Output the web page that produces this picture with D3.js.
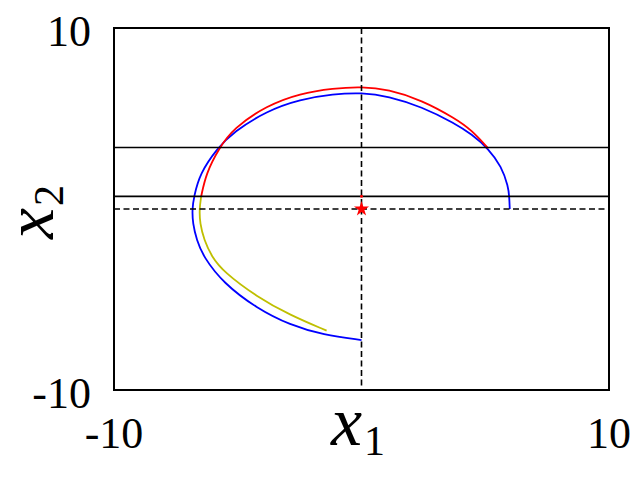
<!DOCTYPE html>
<meta charset="utf-8">
<style>
body { margin: 0; background: #fff; }
</style>
<svg width="640" height="478"></svg>
<script src="https://d3js.org/d3.v7.min.js"></script>
<script>
// axis setup
var xDomain = [-10, 10]
var yDomain = [-10, 10]
var xTicks = [-10, 10]
var yTicks = [-10, 10]

// horizontal bounds and crossing points
var boundLevels = [3.4, 0.7]
var crossLines = { x: 0, y: 0 }
var equilibrium = [0, 0]
var smallDot = [0, 0.7]

// trajectories, [x1, x2]
var bluePath = [
  [5.99, 0], [5.97, 0.68], [5.93, 1.23], [5.66, 2.34], [5.12, 3.35],
  [4.45, 4.13], [3.78, 4.73], [2.43, 5.65], [1.08, 6.24], [0, 6.43],
  [-1.14, 6.35], [-2.48, 6.06], [-3.83, 5.42], [-5.18, 4.25],
  [-5.83, 3.35], [-6.53, 1.97], [-6.77, 0.68], [-6.84, 0], [-6.82, -0.79],
  [-6.66, -1.71], [-6.39, -2.64], [-5.58, -4.10], [-4.23, -5.49],
  [-2.89, -6.41], [-1.54, -6.96], [0, -7.24]
]
var redPath = [
  [5.12, 3.35], [4.45, 4.36], [3.78, 5.01], [2.43, 6.02], [1.08, 6.61],
  [0, 6.76], [-1.14, 6.67], [-2.48, 6.39], [-3.83, 5.72], [-5.18, 4.45],
  [-5.76, 3.35], [-6.28, 1.97], [-6.48, 0.68]
]
var yellowPath = [
  [-6.48, 0.68], [-6.55, 0], [-6.53, -0.79], [-6.36, -1.71], [-6.05, -2.64],
  [-5.58, -3.46], [-4.23, -4.85], [-2.89, -5.86], [-1.41, -6.72]
]

var svg = d3.select('svg')
var serif = 'Liberation Serif'
var plotLeft = 114, plotRight = 609, plotTop = 28, plotBottom = 390

var x = d3.scaleLinear().domain(xDomain).range([plotLeft, plotRight])
var y = d3.scaleLinear().domain(yDomain).range([plotBottom, plotTop])

var line = d3.line()
  .x(function (d) { return x(d[0]) })
  .y(function (d) { return y(d[1]) })
  .curve(d3.curveBasis)

// trajectories
var curves = [
  { data: bluePath, color: '#0000ff' },
  { data: redPath, color: '#ff0000' },
  { data: yellowPath, color: '#bfbf00' }
]
svg.append('g').selectAll('path')
  .data(curves)
  .enter().append('path')
  .attr('d', function (c) { return line(c.data) })
  .attr('fill', 'none')
  .attr('stroke', function (c) { return c.color })
  .attr('stroke-width', 1.8)

// solid bounds
svg.append('g').selectAll('line')
  .data(boundLevels)
  .enter().append('line')
  .attr('x1', x(xDomain[0])).attr('x2', x(xDomain[1]))
  .attr('y1', function (d) { return y(d) })
  .attr('y2', function (d) { return y(d) })
  .attr('stroke', '#000')
  .attr('stroke-width', 1.6)

// dashed crosshair
var dash = svg.append('g')
  .attr('stroke', '#000')
  .attr('stroke-width', 1.6)
  .attr('stroke-dasharray', '6,3.5')
dash.append('line')
  .attr('x1', x(crossLines.x)).attr('x2', x(crossLines.x))
  .attr('y1', y(yDomain[1])).attr('y2', y(yDomain[0]))
dash.append('line')
  .attr('x1', x(xDomain[0])).attr('x2', x(xDomain[1]))
  .attr('y1', y(crossLines.y)).attr('y2', y(crossLines.y))

// markers
svg.append('circle')
  .attr('cx', x(smallDot[0])).attr('cy', y(smallDot[1]))
  .attr('r', 1.5)
  .attr('fill', '#ff0000')
svg.append('path')
  .attr('d', d3.symbol().type(d3.symbolStar).size(70)())
  .attr('transform', 'translate(' + x(equilibrium[0]) + ',' + y(equilibrium[1]) + ')')
  .attr('fill', '#ff0000')

// frame
svg.append('rect')
  .attr('x', plotLeft).attr('y', plotTop)
  .attr('width', plotRight - plotLeft).attr('height', plotBottom - plotTop)
  .attr('fill', 'none')
  .attr('stroke', '#000')
  .attr('stroke-width', 2)

// tick labels
svg.append('g').selectAll('text')
  .data(xTicks)
  .enter().append('text')
  .attr('x', function (d) { return x(d) })
  .attr('y', plotBottom + 58)
  .attr('text-anchor', 'middle')
  .attr('font-family', serif)
  .attr('font-size', 44)
  .text(function (d) { return d })

svg.append('g').selectAll('text')
  .data(yTicks)
  .enter().append('text')
  .attr('x', plotLeft - 23)
  .attr('y', function (d) { return y(d) + 18 })
  .attr('text-anchor', 'end')
  .attr('font-family', serif)
  .attr('font-size', 44)
  .text(function (d) { return d })

// axis labels
var xl = svg.append('text')
  .attr('x', 331)
  .attr('y', 445)
  .attr('font-family', serif)
xl.append('tspan').attr('font-style', 'italic').attr('font-size', 70).text('x')
xl.append('tspan').attr('font-size', 42).attr('dx', 2).attr('dy', 10).text('1')

var yl = svg.append('text')
  .attr('transform', 'translate(53,239) rotate(-90)')
  .attr('font-family', serif)
yl.append('tspan').attr('font-style', 'italic').attr('font-size', 70).text('x')
yl.append('tspan').attr('font-size', 42).attr('dx', 2).attr('dy', 10).text('2')
</script>
